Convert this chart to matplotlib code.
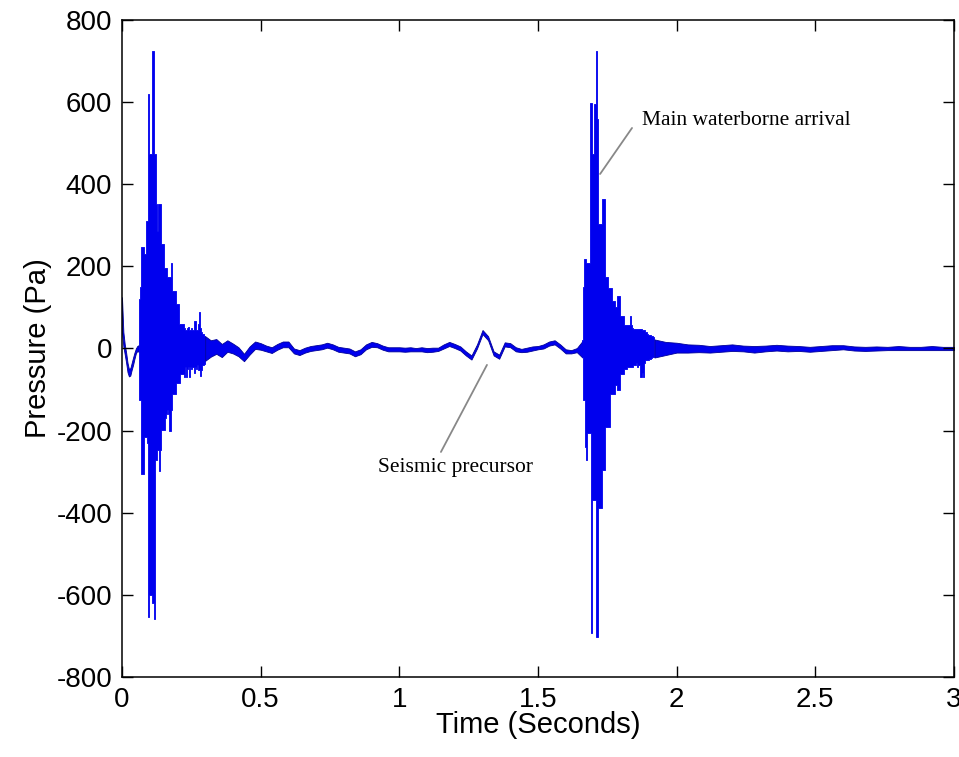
import numpy as np
import matplotlib
matplotlib.use('Agg')
import matplotlib.pyplot as plt

plt.rcParams['font.family'] = ['Liberation Sans', 'DejaVu Sans']
plt.rcParams['axes.unicode_minus'] = False

# pressure record (Pa); bursts as upper/lower envelopes
pre_t = [0.000, 0.005, 0.010, 0.015, 0.020, 0.025, 0.030, 0.035, 0.040, 0.045, 0.050, 0.055, 0.060]
pre_hi = [125, 40, 10, -10, -35, -50, -48, -35, -22, -10, 0, 6, 8]
pre_lo = [40, 5, -15, -35, -58, -68, -66, -52, -40, -25, -12, -6, -8]

# first arrival, sampled every 4 ms from 0.060 s
burst1_hi = [60, 120, 150, 246, 246, 230, 230, 311, 311, 619, 474, 474, 474, 725, 474,
             474, 352, 287, 352, 352, 352, 255, 255, 197, 197, 197, 173, 173, 173, 173,
             209, 141, 141, 141, 109, 109, 109, 60, 60, 60, 60, 50, 45, 45, 50,
             52, 45, 45, 50, 45, 68, 68, 45, 45, 60, 88, 50, 40, 35, 30, 30]
burst1_lo = [-60, -126, -126, -305, -305, -216, -216, -216, -230, -653, -600, -600, -600, -620, -660,
             -272, -272, -248, -248, -298, -248, -199, -199, -199, -170, -160, -150, -160, -200, -200,
             -150, -110, -110, -110, -85, -85, -85, -85, -61, -61, -61, -69, -45, -69, -50,
             -45, -69, -45, -50, -45, -60, -45, -50, -40, -53, -53, -66, -53, -40, -37, -33]
burst1_t = np.linspace(0.060, 0.300, len(burst1_hi))

# quiet stretch between arrivals (centre line and half-thickness of the trace)
mid_t = [0.30, 0.32, 0.34, 0.36, 0.38, 0.40, 0.42, 0.44, 0.46, 0.48, 0.50, 0.52, 0.54, 0.56,
         0.58, 0.60, 0.62, 0.64, 0.66, 0.68, 0.70, 0.72, 0.74, 0.76, 0.78, 0.80, 0.82, 0.84,
         0.86, 0.88, 0.90, 0.92, 0.94, 0.96, 0.98, 1.00, 1.02, 1.04, 1.06, 1.08, 1.10, 1.12,
         1.14, 1.16, 1.18, 1.20, 1.22, 1.24, 1.26, 1.28, 1.30, 1.32, 1.34, 1.36, 1.38, 1.40,
         1.42, 1.44, 1.46, 1.48, 1.50, 1.52, 1.54, 1.56, 1.58, 1.60, 1.62, 1.64, 1.66]
mid_p = [0, 0, 5, -5, 6, 0, -8, -22, -5, 8, 5, 0, -4, 4,
         10, 10, -6, -10, -4, 0, 2, 4, 8, 4, -2, -4, -6, -13,
         -8, 4, 10, 8, 2, -2, -2, -2, -3, -2, -3, -2, -4, -3,
         -2, 5, 11, 6, 0, -12, -22, 5, 40, 25, -12, -20, 10, 8,
         -2, -5, -3, 0, 2, 5, 12, 15, 5, -7, -8, -4, -2]
mid_spread = [30, 20, 18, 16, 14, 12, 11, 9, 10, 9, 8, 7, 7, 7,
              7, 7, 6, 6, 6, 6, 6, 6, 6, 6, 6, 6, 6, 6,
              6, 6, 6, 5, 5, 5, 5, 5, 5, 5, 4, 5, 5, 5,
              4, 5, 5, 5, 5, 5, 5, 5, 5, 5, 5, 5, 5, 5,
              5, 4, 5, 5, 4, 5, 5, 5, 5, 5, 4, 5, 20]

# main waterborne arrival, sampled every 4 ms from 1.660 s
burst2_hi = [20, 150, 219, 219, 207, 207, 207, 599, 599, 474, 474, 595, 595, 725, 560,
             303, 303, 303, 365, 365, 365, 173, 173, 173, 148, 148, 148, 116, 116, 116,
             100, 100, 129, 129, 80, 80, 80, 80, 58, 58, 58, 58, 56, 80, 56,
             50, 48, 48, 48, 48, 48, 48, 48, 48, 44, 44, 44, 40, 40, 36,
             32, 32, 30, 30, 28, 28]
burst2_lo = [-20, -126, -126, -240, -272, -207, -207, -207, -693, -370, -370, -370, -370, -702, -702,
             -389, -389, -389, -297, -297, -297, -191, -191, -191, -191, -110, -110, -110, -110, -110,
             -90, -90, -102, -102, -61, -61, -61, -61, -49, -49, -49, -45, -45, -45, -45,
             -45, -40, -40, -40, -35, -45, -40, -69, -69, -60, -69, -35, -29, -29, -29,
             -29, -25, -22, -20, -20, -18]
burst2_t = np.linspace(1.660, 1.920, len(burst2_hi))

tail_t = [1.92, 1.96, 2.00, 2.04, 2.08, 2.12, 2.16, 2.20, 2.24, 2.28, 2.32, 2.36, 2.40, 2.44,
          2.48, 2.52, 2.56, 2.60, 2.64, 2.68, 2.72, 2.76, 2.80, 2.84, 2.88, 2.92, 2.96, 3.00]
tail_p = [0, 0, 2, 0, 0, -2, 0, 2, 0, -2, 0, 2, 0, 0,
          -2, 0, 2, 3, 0, -1, 0, 0, 1, 0, 0, 1, 0, 0]
tail_spread = [22, 16, 12, 10, 9, 8, 8, 8, 7, 8, 7, 7, 7, 6,
               6, 6, 6, 5, 5, 5, 5, 4, 5, 4, 4, 5, 4, 4]

x_ticks = [0, 0.5, 1, 1.5, 2, 2.5, 3]
x_labels = ['0', '0.5', '1', '1.5', '2', '2.5', '3']
y_ticks = [-800, -600, -400, -200, 0, 200, 400, 600, 800]

fig = plt.figure(figsize=(9.59, 7.57), dpi=100)
ax = fig.add_axes([0.1272, 0.1057, 0.8676, 0.8679])

face = '#0000ee'
edge = '#00009a'
ax.fill_between(pre_t, pre_lo, pre_hi, facecolor=face, edgecolor=edge, lw=0.6)
ax.fill_between(burst1_t, burst1_lo, burst1_hi, step='mid', facecolor=face, edgecolor=face, lw=0.6)
mid_p = np.array(mid_p)
mid_spread = np.array(mid_spread)
ax.fill_between(mid_t, mid_p - mid_spread, mid_p + mid_spread, facecolor=face, edgecolor=edge, lw=0.6)
ax.fill_between(burst2_t, burst2_lo, burst2_hi, step='mid', facecolor=face, edgecolor=face, lw=0.6)
tail_p = np.array(tail_p)
tail_spread = np.array(tail_spread)
ax.fill_between(tail_t, tail_p - tail_spread, tail_p + tail_spread, facecolor=face, edgecolor=edge, lw=0.6)

# annotation leader lines and labels
lead = dict(arrowstyle='-', color='#888888', lw=1.3, shrinkA=0, shrinkB=0)
ax.annotate('', xy=(1.316, -40), xytext=(1.150, -252), arrowprops=lead)
ax.text(1.201, -291, 'Seismic precursor', ha='center', va='center',
        fontsize=15.5, family='Liberation Serif')
ax.annotate('', xy=(1.724, 425), xytext=(1.839, 537), arrowprops=lead)
ax.text(1.875, 556, 'Main waterborne arrival', ha='left', va='center',
        fontsize=15.5, family='Liberation Serif')

ax.set_xlim(0, 3)
ax.set_ylim(-800, 800)
ax.set_xticks(x_ticks)
ax.set_xticklabels(x_labels)
ax.set_yticks(y_ticks)
ax.tick_params(direction='in', length=8, width=1, top=True, right=True, labelsize=20, pad=7)
for s in ax.spines.values():
    s.set_linewidth(1.1)
ax.set_xlabel('Time (Seconds)', fontsize=21, labelpad=-1)
ax.set_ylabel('Pressure (Pa)', fontsize=21, labelpad=3)

fig.savefig('out.png', dpi=100)
